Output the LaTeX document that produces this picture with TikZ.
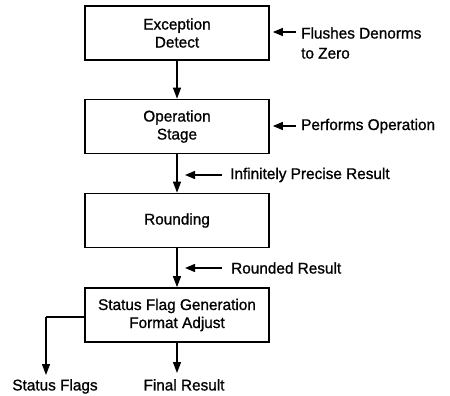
\documentclass[tikz,border=0pt]{standalone}
\usepackage{fontspec}
\newfontfamily\diafont{Liberation Sans}[FakeBold=1.0,FakeStretch=0.99]
\usetikzlibrary{arrows.meta}
\begin{document}
\begin{tikzpicture}[x=1pt,y=-1pt,
  stage/.style={draw,line width=1.7pt,minimum width=184pt,minimum height=54pt,align=center,font=\diafont\fontsize{15.5}{18}\selectfont,inner sep=0pt},
  lbl/.style={font=\diafont\fontsize{15.5}{20}\selectfont,inner sep=0pt,align=left},
  conn/.style={line width=1.3pt,-{Triangle[length=11pt,width=8pt]}},
  side/.style={line width=1.3pt,-{Triangle[length=10pt,width=8pt]}}]
\useasboundingbox (0,0) rectangle (450,396);
\node[stage] (ed) at (177,33) {Exception\\Detect};
\node[stage] (os) at (177,126.5) {Operation\\Stage};
\node[stage] (rd) at (177,220.5) {Rounding};
\node[stage] (sf) at (177,315) {Status Flag Generation\\Format Adjust};
\coordinate (fr) at (177,373);
\coordinate (sfc) at (46,317);
\coordinate (sft) at (46,375);
\draw[conn] (ed) -- (os);
\draw[conn] (os) -- (rd);
\draw[conn] (rd) -- (sf);
\draw[conn] (sf) -- (fr);
\draw[line width=1.3pt] (sf.west |- sfc) -- (sfc);
\draw[conn] (sfc) -- (sft);
\node[lbl,anchor=north] (sfl) at (55,379) {Status Flags};
\node[lbl,anchor=north] (frl) at (184,379) {Final Result};
% side labels
\node[lbl,anchor=west] (t1) at (301,43) {Flushes Denorms\\to Zero};
\coordinate (a1) at (296,32);
\draw[side] (a1) -- ([xshift=3pt]ed.east |- a1);
\node[lbl,anchor=west] (t2) at (301,126) {Performs Operation};
\coordinate (a2) at (296,126);
\draw[side] (a2) -- ([xshift=3pt]os.east |- a2);
\node[lbl,anchor=west] (t3) at (230,175) {Infinitely Precise Result};
\coordinate (a3) at (222,175);
\coordinate (b3) at (185,175);
\draw[side] (a3) -- (b3);
\node[lbl,anchor=west] (t4) at (231,268) {Rounded Result};
\coordinate (a4) at (222,268);
\coordinate (b4) at (185,268);
\draw[side] (a4) -- (b4);
\end{tikzpicture}
\end{document}
